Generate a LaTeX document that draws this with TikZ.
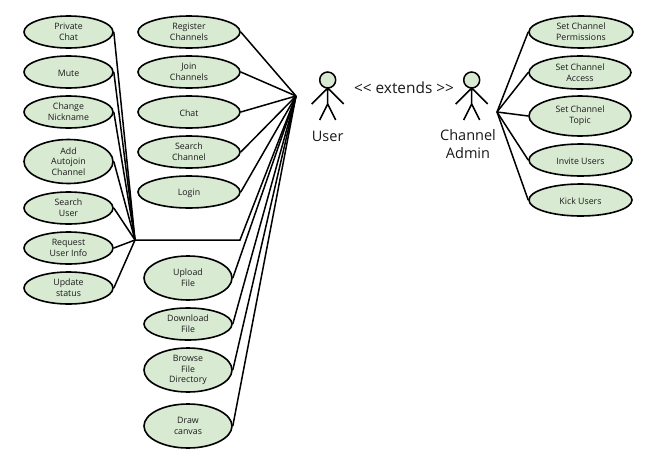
\documentclass[tikz,border=0pt]{standalone}
\usepackage{fontspec}
\setmainfont{Open Sans}
\usetikzlibrary{shapes.geometric}
\definecolor{usefill}{HTML}{D9EAD3}
\definecolor{ink}{HTML}{1A1A1A}
\tikzset{
  x=1pt,y=-1pt,
  usecase/.style={ellipse,draw=black,fill=usefill,line width=1.6pt,inner sep=0pt,
    minimum width=#1,align=center,text=ink,font=\fontsize{8.8}{10.7}\selectfont,
    execute at begin node={\rule{0pt}{8.6pt}}},
  usecase/.default=89pt,
  link/.style={draw=black,line width=1.5pt},
  bigtext/.style={align=center,text=ink,font=\fontsize{14.5}{18}\selectfont,inner sep=0pt},
  head/.style={circle,draw=black,fill=usefill,line width=1.5pt,minimum size=16pt,inner sep=0pt},
  pics/stickman/.style={code={
    \draw[link] (0,8) -- (0,24) (-16,24) -- (0,8) -- (16,24) (-8,40) -- (0,24) -- (8,40);
  }}
}
\begin{document}
\begin{tikzpicture}
\useasboundingbox (0,0) rectangle (657,464);
\fill[white] (0,0) rectangle (657,464);
% left column
\node[usecase=89pt,minimum height=32pt] (private) at (68.5,32) {Private\\Chat};
\node[usecase=89pt,minimum height=32pt] (mute) at (68.5,72) {Mute};
\node[usecase=89pt,minimum height=32pt] (nick) at (68.5,112) {Change\\Nickname};
\node[usecase=89pt,minimum height=44pt] (autojoin) at (68.5,161.5) {Add\\Autojoin\\Channel};
\node[usecase=89pt,minimum height=32pt] (searchuser) at (68.5,208) {Search\\User};
\node[usecase=89pt,minimum height=32pt] (reqinfo) at (68.5,248) {Request\\User Info};
\node[usecase=89pt,minimum height=32pt] (status) at (68.5,288) {Update\\status};
% middle column
\node[usecase=102pt,minimum height=32pt] (register) at (189,32) {Register\\Channels};
\node[usecase=102pt,minimum height=32pt] (join) at (189,72) {Join\\Channels};
\node[usecase=102pt,minimum height=32pt] (chat) at (189,112) {Chat};
\node[usecase=102pt,minimum height=32pt] (searchch) at (189,152) {Search\\Channel};
\node[usecase=102pt,minimum height=32pt] (login) at (189,192) {Login};
\node[usecase=88pt,minimum height=44pt] (upload) at (188,278) {Upload\\File};
\node[usecase=88pt,minimum height=32pt] (download) at (188,324) {Download\\File};
\node[usecase=88pt,minimum height=44pt] (browse) at (188,370) {Browse\\File\\Directory};
\node[usecase=88pt,minimum height=44pt] (canvas) at (188,426) {Draw\\canvas};
% right column
\node[usecase=104pt,minimum height=32pt] (perm) at (581,32) {Set Channel\\Permissions};
\node[usecase=102pt,minimum height=33pt] (access) at (580,72.5) {Set Channel\\Access};
\node[usecase=102pt,minimum height=40pt] (topic) at (580,116) {Set Channel\\Topic};
\node[usecase=103pt,minimum height=32pt] (invite) at (580.5,160) {Invite Users};
\node[usecase=103pt,minimum height=32pt] (kick) at (580.5,200) {Kick Users};
% actors
\node[head] (userhead) at (327.7,80) {};
\pic at (327.7,80) {stickman};
\node[bigtext] (userlabel) at (327.7,136) {User};
\node[head] (adminhead) at (471.7,80) {};
\pic at (471.7,80) {stickman};
\node[bigtext] (adminlabel) at (468,144) {Channel\\Admin};
\node[bigtext,font=\fontsize{15.4}{18}\selectfont] (extends) at (404,88) {<{}< extends >{}>};
% junctions
\coordinate (userhub) at (296,96);
\coordinate (adminhub) at (497,112);
\coordinate (lefthub) at (135,240);
\coordinate (bend) at (240,240);
% connectors
\foreach \n in {private,mute,nick,autojoin,searchuser,reqinfo,status}
  \draw[link] (\n.east) -- (lefthub);
\draw[link] (lefthub) -- (bend) -- (userhub);
\foreach \n in {register,join,chat,searchch,login,upload,download,browse,canvas}
  \draw[link] (\n.east) -- (userhub);
\foreach \n in {perm,access,topic,invite,kick}
  \draw[link] (\n.west) -- (adminhub);
\end{tikzpicture}
\end{document}
